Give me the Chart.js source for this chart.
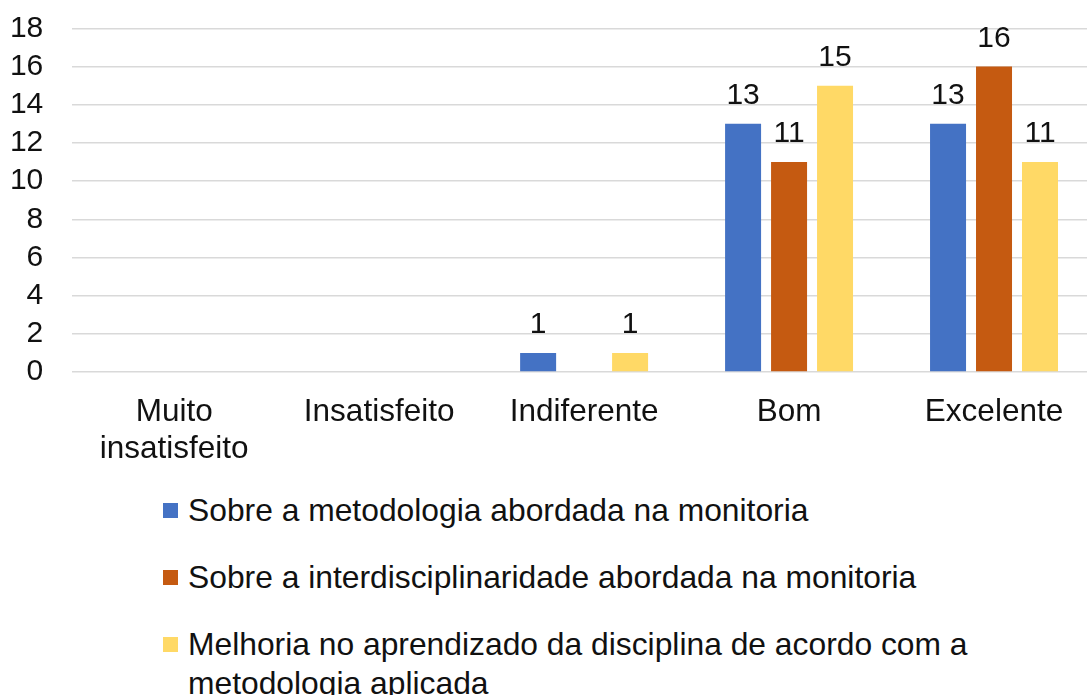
<!DOCTYPE html>
<html>
<head>
<meta charset="utf-8">
<script src="https://cdn.jsdelivr.net/npm/chart.js@4/dist/chart.umd.min.js"></script>
<style>
  html, body { margin: 0; padding: 0; background: #fff; overflow: hidden; width: 1087px; height: 695px; position: relative; }
  #wrap { position: absolute; left: 0; top: -17.7px; width: 1100px; height: 488px; }
  #legend { position: absolute; left: 163px; top: 491px; width: 880px; font-family: "Liberation Sans", Arial, sans-serif; font-size: 31.8px; color: #111; }
  .item { position: absolute; left: 0; width: 880px; padding-left: 25px; line-height: 39px; box-sizing: border-box; }
  .box { position: absolute; left: 0; top: 12px; width: 15px; height: 15px; }
</style>
</head>
<body>
<div id="wrap"><canvas id="c" width="1100" height="488"></canvas></div>
<div id="legend"></div>
<script>
const categories = [["Muito", "insatisfeito"], "Insatisfeito", "Indiferente", "Bom", "Excelente"];
const seriesNames = [
  "Sobre a metodologia abordada na monitoria",
  "Sobre a interdisciplinaridade abordada na monitoria",
  "Melhoria no aprendizado da disciplina de acordo com a metodologia aplicada"
];
const metodologia = [0, 0, 1, 13, 13];
const interdisciplinaridade = [0, 0, 0, 11, 16];
const melhoria = [0, 0, 1, 15, 11];
const seriesColors = ["#4472C4", "#C55A11", "#FFD966"];
const yTicks = [0, 2, 4, 6, 8, 10, 12, 14, 16, 18];

const FONT = "'Liberation Sans', Arial, sans-serif";

const valueLabels = {
  id: 'valueLabels',
  afterDatasetsDraw(chart) {
    const ctx = chart.ctx;
    ctx.save();
    ctx.font = "30px " + FONT;
    ctx.fillStyle = "#111";
    ctx.textAlign = "center";
    ctx.textBaseline = "alphabetic";
    chart.data.datasets.forEach((ds, i) => {
      const meta = chart.getDatasetMeta(i);
      meta.data.forEach((bar, j) => {
        const v = ds.data[j];
        if (v > 0) ctx.fillText(String(v), bar.x, bar.y - 20);
      });
    });
    ctx.restore();
  }
};

const seriesData = [metodologia, interdisciplinaridade, melhoria];

new Chart(document.getElementById('c'), {
  type: 'bar',
  data: {
    labels: categories,
    datasets: seriesNames.map((name, i) => ({
      label: name,
      data: seriesData[i],
      backgroundColor: seriesColors[i],
      borderWidth: 0,
      categoryPercentage: 0.673,
      barPercentage: 0.783
    }))
  },
  options: {
    responsive: false,
    animation: false,
    layout: { padding: { left: 10, top: 10, right: 3.5, bottom: 0 } },
    plugins: { legend: { display: false }, tooltip: { enabled: false } },
    scales: {
      x: {
        grid: { display: false, drawTicks: false },
        border: { display: false },
        ticks: { font: { family: FONT, size: 31.5, lineHeight: 1.17 }, color: '#111', padding: 22, maxRotation: 0, autoSkip: false },
        afterFit(scale) { scale.height = 488 - 390; }
      },
      y: {
        min: 0, max: 18,
        afterBuildTicks(scale) { scale.ticks = yTicks.map(v => ({ value: v })); },
        grid: { color: '#d9d9d9', lineWidth: 1.5, drawTicks: false },
        border: { display: false },
        ticks: { font: { family: FONT, size: 30 }, color: '#111', padding: 28.4, autoSkip: false },
        afterFit(scale) { scale.width = 71.7 - 10; }
      }
    }
  },
  plugins: [valueLabels]
});

const legend = document.getElementById('legend');
const tops = [0, 67, 134];
seriesNames.forEach((name, i) => {
  const it = document.createElement('div');
  it.className = 'item';
  it.style.top = tops[i] + 'px';
  const b = document.createElement('span');
  b.className = 'box';
  b.style.background = seriesColors[i];
  it.appendChild(b);
  it.appendChild(document.createTextNode(name));
  legend.appendChild(it);
});
</script>
</body>
</html>
